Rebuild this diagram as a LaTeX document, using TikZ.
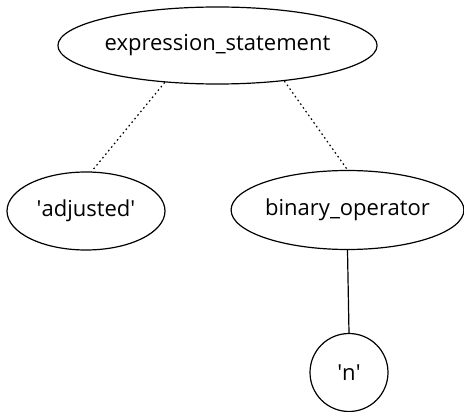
\documentclass[tikz,border=0pt]{standalone}
\usepackage{fontspec}
\setmainfont{Open Sans}
\usetikzlibrary{shapes.geometric}
\begin{document}
\begin{tikzpicture}[x=1pt,y=-1pt,
  treenode/.style={draw=black, line width=1.2pt, ellipse, inner sep=0pt, font=\fontsize{22}{26}\selectfont},
  leafcirc/.style={draw=black, line width=1.2pt, circle, inner sep=0pt, font=\fontsize{22}{26}\selectfont},
  dotedge/.style={line width=1.2pt, dash pattern=on 1.6pt off 3pt},
  solidedge/.style={line width=1.2pt}]
\useasboundingbox (0,0) rectangle (464,412);
\node[treenode, minimum width=311pt, minimum height=77pt] (expr) at (217.5,45.5) {expression\_statement};
\node[treenode, minimum width=158pt, minimum height=78pt] (adj) at (86,211) {\textquotesingle adjusted\textquotesingle};
\node[treenode, minimum width=231pt, minimum height=79pt] (binop) at (347.5,210) {binary\_operator};
\node[leafcirc, minimum size=78pt] (n) at (349,372.5) {\textquotesingle n\textquotesingle};
\draw[dotedge] (expr.215) -- (adj.82);
\draw[dotedge] (expr.332) -- (binop.90);
\draw[solidedge] (binop.south) -- (n.north);
\end{tikzpicture}
\end{document}
